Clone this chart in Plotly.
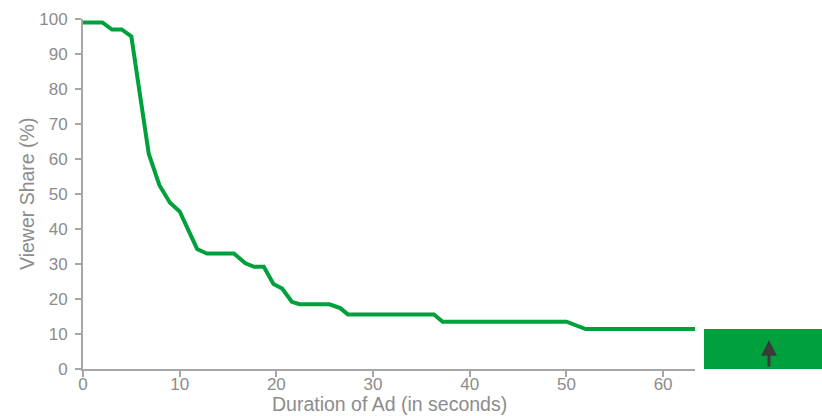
import plotly.graph_objects as go

duration = [0, 2, 3, 4, 5, 5.9, 6.8, 7.9, 9, 10, 11.8, 12.8, 15.6, 16.8, 17.7, 18.7,
            19.7, 20.6, 21.6, 22.4, 25.5, 26.6, 27.4, 36.3, 37.2, 50, 52, 63.3]
viewer_share = [99, 99, 97, 97, 95, 79, 61.5, 52.5, 47.5, 45, 34.3, 33, 33, 30.2, 29.2, 29.2,
                24.3, 23, 19.2, 18.5, 18.5, 17.4, 15.6, 15.6, 13.5, 13.5, 11.4, 11.4]
x_ticks = [0, 10, 20, 30, 40, 50, 60]
y_ticks = [0, 10, 20, 30, 40, 50, 60, 70, 80, 90, 100]
box_top = 11.4
x_title = "Duration of Ad (in seconds)"
y_title = "Viewer Share (%)"

GREEN = "#00A03C"
GRAY = "#8c8c8c"
AXIS = "#a6a6a6"

fig = go.Figure()
fig.add_trace(go.Scatter(x=duration, y=viewer_share, mode="lines",
                         line=dict(color=GREEN, width=4), showlegend=False,
                         cliponaxis=False, hoverinfo="skip"))

fig.add_shape(type="rect", xref="paper", yref="y", x0=1.0147, x1=1.21, y0=0, y1=box_top,
              fillcolor=GREEN, line=dict(width=0), layer="above")

fig.add_annotation(xref="paper", yref="y", x=1.1209, y=8.3, ax=0, ay=28, axref="pixel",
                   ayref="pixel", showarrow=True, arrowhead=2, arrowwidth=3, arrowsize=1.05,
                   arrowcolor="#3a3a3a", text="")

fig.add_annotation(xref="paper", yref="paper", x=0.5, y=0, yshift=-35, xanchor="center",
                   yanchor="middle", showarrow=False, text=x_title,
                   font=dict(size=19.5, color=GRAY))
fig.add_annotation(xref="paper", yref="paper", x=0, y=0.5, xshift=-56, xanchor="center",
                   yanchor="middle", showarrow=False, text=y_title, textangle=-90,
                   font=dict(size=19.5, color=GRAY))

fig.update_layout(
    width=822, height=416,
    margin=dict(l=83, r=127, t=19, b=47),
    paper_bgcolor="white", plot_bgcolor="white",
    font=dict(family="Liberation Sans, Arial, sans-serif", color=GRAY, size=17),
    xaxis=dict(range=[0, 63.3], tickvals=x_ticks, showgrid=False, zeroline=False,
               automargin=False,
               showline=True, linecolor=AXIS, linewidth=2, ticks="outside", ticklen=6,
               tickcolor=AXIS, tickwidth=1.5, tickfont=dict(size=17, color=GRAY),
               ticklabelstandoff=-7),
    yaxis=dict(range=[0, 100], tickvals=y_ticks, showgrid=False, zeroline=False,
               automargin=False,
               showline=True, linecolor=AXIS, linewidth=2, ticks="outside", ticklen=6,
               tickcolor=AXIS, tickwidth=1.5, tickfont=dict(size=17, color=GRAY),
               ticklabelstandoff=4),
)

fig.write_html("out.html", config={"displayModeBar": False},
               post_script="document.body.style.margin='0';")
